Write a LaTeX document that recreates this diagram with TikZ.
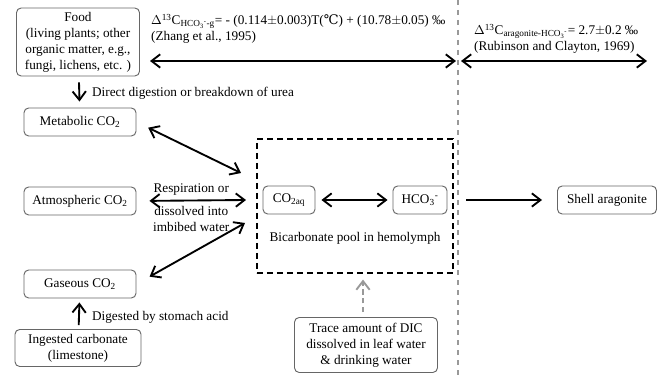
\documentclass[tikz,border=0pt]{standalone}
\usepackage{fontspec}
\setmainfont{Liberation Serif}
\newfontfamily\symfont{DejaVu Serif}
\usetikzlibrary{positioning,arrows.meta}

\begin{document}
\begin{tikzpicture}[
                x=0.03cm, y=-0.03cm,
                every node/.style={font=\fontsize{11.3}{13.6}\selectfont},
                box/.style={rectangle,draw=black!60,rounded corners=4pt,line width=0.8pt,align=center,minimum height=0.84cm,inner sep=2pt},
                pool/.style={rectangle,draw=black,line width=1pt,dash pattern=on 1.8mm off 1.2mm,minimum width=5.88cm,minimum height=4.02cm,inner sep=0pt},
                flow/.style={line width=1.6pt,-{Straight Barb[length=2.6mm,width=4mm]}},
                twoway/.style={line width=1.6pt,{Straight Barb[length=2.6mm,width=4mm]}-{Straight Barb[length=2.6mm,width=4mm]}},
            ]
            \useasboundingbox (0,0) rectangle (659,376);

            % Define nodes
            \node[box,minimum width=3.69cm,minimum height=2.04cm] (Food) at (78,42) {Food\\(living plants; other\\organic matter, e.g.,\\fungi, lichens, etc. )};
            \node[box,minimum width=3.36cm] (Metabolic) at (80,122) {Metabolic CO\textsubscript{2}};
            \node[box,minimum width=3.36cm] (Atmospheric) at (80,201) {Atmospheric CO\textsubscript{2}};
            \node[box,minimum width=3.36cm] (Gaseous) at (80,284) {Gaseous CO\textsubscript{2}};
            \node[box,minimum width=3.78cm,minimum height=1.11cm] (Ingested) at (78,348) {Ingested carbonate\\(limestone)};
            \node[pool] (Pool) at (355,206) {};
            \node[box,minimum width=1.56cm] (CO2aq) at (289,200) {CO\textsubscript{2aq}};
            \node[box,minimum width=1.62cm] (HCO3) at (420,200) {HCO\textsubscript{3}\textsuperscript{-}};
            \node (PoolLabel) at (355,238) {Bicarbonate pool in hemolymph};
            \node[box,minimum width=2.97cm] (Shell) at (607,200) {Shell aragonite};
            \node[box,minimum width=4.29cm,minimum height=1.65cm] (Trace) at (366,345) {Trace amount of DIC\\dissolved in leaf water\\\& drinking water};

            % Fractionation factors
            \node[anchor=west,align=left] (Zhang) at (147,29) {$\Delta$\textsuperscript{13}C\textsubscript{HCO\textsubscript{3}\textsuperscript{-}-g}= - (0.114$\pm$0.003)T({\symfont ℃}) + (10.78$\pm$0.05) ‰\\(Zhang et al., 1995)};
            \node[anchor=west,align=left] (Rubinson) at (470,39) {$\Delta$\textsuperscript{13}C\textsubscript{aragonite-HCO\textsubscript{3}\textsuperscript{-}}= 2.7$\pm$0.2 ‰\\(Rubinson and Clayton, 1969)};
            \coordinate (ZL) at (150,61);
            \coordinate (ZR) at (456,61);
            \coordinate (RL) at (461,61);
            \coordinate (RR) at (647,61);
            \coordinate (SepT) at (458,0);
            \coordinate (SepB) at (458,376);
            \coordinate (M1) at (241,173);
            \coordinate (A1) at (246,200);
            \coordinate (G1) at (245,223);

            % Draw connections
            \draw[gray!80,line width=1pt,dash pattern=on 1.6mm off 1.4mm] (SepT) -- (SepB);
            \draw[twoway] (ZL) -- (ZR);
            \draw[twoway] (RL) -- (RR);
            \draw[flow,shorten <=1.8mm,shorten >=1.8mm] (Food) -- (Metabolic);
            \draw[twoway,shorten <=3.9mm] (Metabolic.east) -- (M1);
            \draw[twoway,shorten <=3.9mm] (Atmospheric.east) -- (A1)
                node[midway,above=0pt] {Respiration or}
                node[midway,below=1pt,align=center] {dissolved into\\imbibed water};
            \draw[twoway,shorten <=4.5mm] (Gaseous.east) -- (G1);
            \draw[flow,shorten <=1.2mm,shorten >=1.2mm] (Ingested) -- (Gaseous);
            \draw[twoway,shorten <=1.8mm,shorten >=1.5mm] (CO2aq) -- (HCO3);
            \draw[flow,shorten <=5.7mm,shorten >=4.5mm] (HCO3) -- (Shell);
            \draw[gray!80,line width=1.6pt,dash pattern=on 1.6mm off 1mm,-{Straight Barb[length=2.6mm,width=4mm]},shorten <=1.5mm,shorten >=1.8mm] (Trace.north -| 363,0) -- (Pool.south -| 363,0);

            % Draw labels
            \node[anchor=west] (DigestLabel) at (88,93) {Direct digestion or breakdown of urea};
            \node[anchor=west] (AcidLabel) at (88,317) {Digested by stomach acid};

            \end{tikzpicture}
\end{document}
